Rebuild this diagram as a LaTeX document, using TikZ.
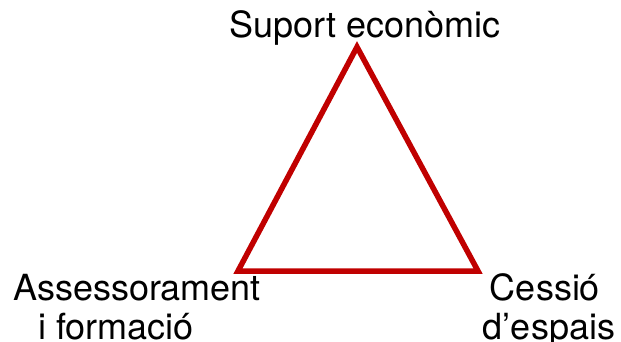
\documentclass[tikz,border=0pt]{standalone}
\usepackage{fontspec}
\setmainfont{TeX Gyre Heros}
\definecolor{trired}{RGB}{192,0,0}
\begin{document}
\begin{tikzpicture}[x=1pt,y=-1pt,
  lbl/.style={anchor=base,inner sep=0pt,font=\fontsize{36}{40}\selectfont},
  tri/.style={draw=trired,line width=5.5pt,line join=miter}]
\useasboundingbox (0,0) rectangle (621,342);
\coordinate (top) at (357,47);
\coordinate (left) at (238,271);
\coordinate (right) at (478,271);
\draw[tri] (top) -- (left) -- (right) -- cycle;
\node[lbl] (suport) at (365,38) {Suport econòmic};
\node[lbl] (assess1) at (137,300) {Assessorament};
\node[lbl] (assess2) at (116,339) {i formació};
\node[lbl] (cessio1) at (545,300) {Cessió};
\node[lbl] (cessio2) at (549,339) {d’espais};
\end{tikzpicture}
\end{document}
